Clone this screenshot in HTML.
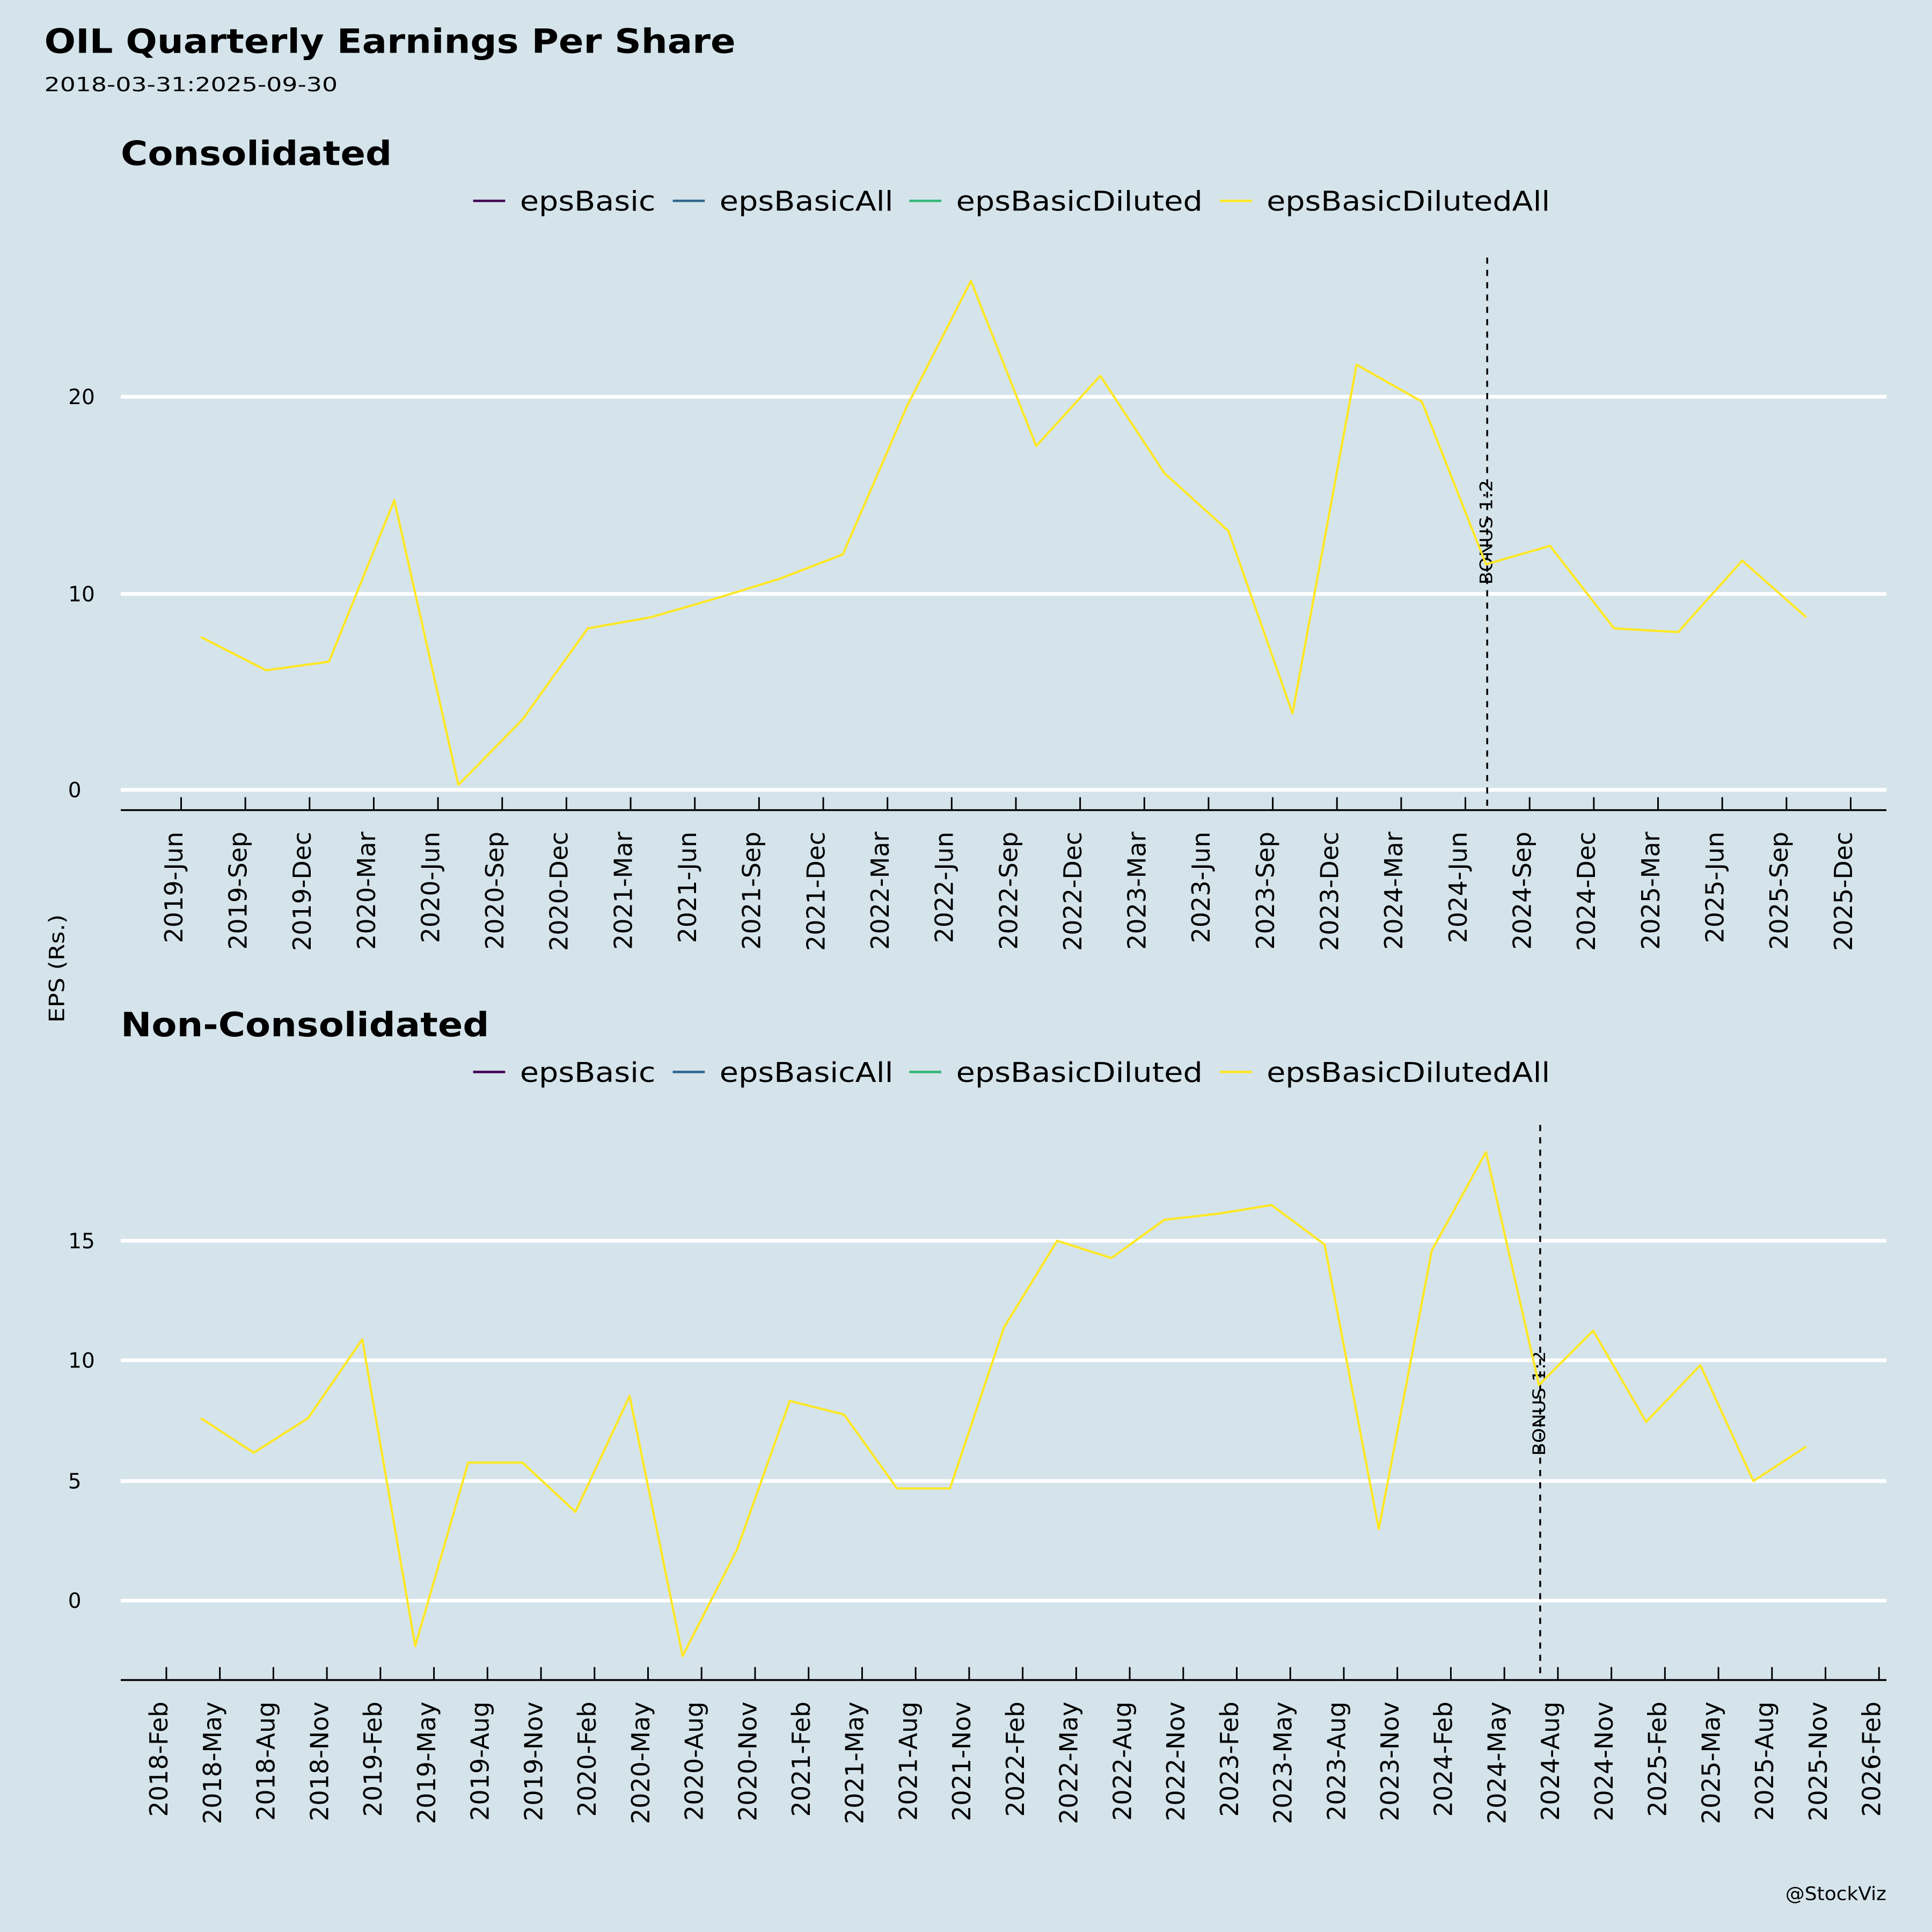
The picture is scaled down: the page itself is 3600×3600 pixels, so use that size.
<!DOCTYPE html>
<html><head><meta charset="utf-8"><style>
html,body{margin:0;padding:0;background:#D5E4EB;}
svg{display:block;}
text{font-family:"DejaVu Sans","Liberation Sans",sans-serif;fill:#000;}
</style></head><body>
<svg width="3600" height="3600" viewBox="0 0 1568 1568" xmlns="http://www.w3.org/2000/svg">
<rect width="1568" height="1568" fill="#D5E4EB"/>
<text x="36" y="43" font-size="27" font-weight="bold" textLength="561" lengthAdjust="spacingAndGlyphs">OIL Quarterly Earnings Per Share</text>
<text x="36" y="74" font-size="16" textLength="238" lengthAdjust="spacingAndGlyphs">2018-03-31:2025-09-30</text>
<text x="0" y="0" font-size="17" transform="translate(52,786) rotate(-90)" text-anchor="middle" textLength="88" lengthAdjust="spacingAndGlyphs">EPS (Rs.)</text>
<text x="1531" y="1542" font-size="15" text-anchor="end" textLength="82" lengthAdjust="spacingAndGlyphs">@StockViz</text>

<!-- Panel 1 -->
<text x="98" y="134" font-size="27" font-weight="bold" textLength="220" lengthAdjust="spacingAndGlyphs">Consolidated</text>
<g font-size="22">
<line x1="384" y1="163" x2="410" y2="163" stroke="#440154" stroke-width="2"/><text x="422" y="171" textLength="110" lengthAdjust="spacingAndGlyphs">epsBasic</text>
<line x1="546" y1="163" x2="572" y2="163" stroke="#31688E" stroke-width="2"/><text x="584" y="171" textLength="141" lengthAdjust="spacingAndGlyphs">epsBasicAll</text>
<line x1="738" y1="163" x2="764" y2="163" stroke="#35B779" stroke-width="2"/><text x="776" y="171" textLength="200" lengthAdjust="spacingAndGlyphs">epsBasicDiluted</text>
<line x1="990" y1="163" x2="1016" y2="163" stroke="#FDE725" stroke-width="2"/><text x="1028" y="171" textLength="230" lengthAdjust="spacingAndGlyphs">epsBasicDilutedAll</text>
</g>
<g stroke="#fff" stroke-width="3">
<line x1="98" y1="641" x2="1531" y2="641"/><line x1="98" y1="482" x2="1531" y2="482"/><line x1="98" y1="322" x2="1531" y2="322"/>
</g>
<g font-size="17" text-anchor="end">
<text x="66" y="647">0</text><text x="77" y="488">10</text><text x="77" y="328">20</text>
</g>
<line x1="98" y1="657.5" x2="1531" y2="657.5" stroke="#000" stroke-width="1.5"/>
<g id="t1" stroke="#000" stroke-width="1.3"></g>
<g id="l1" font-size="20" text-anchor="end"></g>
<line x1="1207" y1="209" x2="1207" y2="657" stroke="#000" stroke-width="1.5" stroke-dasharray="5,5"/>
<text font-size="14" text-anchor="middle" transform="translate(1211,432) rotate(-90)" textLength="85" lengthAdjust="spacingAndGlyphs">BONUS 1:2</text>
<polyline fill="none" stroke="#FDE725" stroke-width="1.8" stroke-linejoin="round" points="163,517 216,544 267,537 320,406 372,637 424,584 477,510 528,501 580,486 632,470 684,450 736,330 788,228 841,362 893,305 945,384 997,431 1049,579 1101,296 1154,326 1206,458 1258,443 1310,510 1362,513 1414,455 1466,501"/>

<!-- Panel 2 -->
<text x="98" y="841" font-size="27" font-weight="bold" textLength="299" lengthAdjust="spacingAndGlyphs">Non-Consolidated</text>
<g font-size="22">
<line x1="384" y1="870" x2="410" y2="870" stroke="#440154" stroke-width="2"/><text x="422" y="878" textLength="110" lengthAdjust="spacingAndGlyphs">epsBasic</text>
<line x1="546" y1="870" x2="572" y2="870" stroke="#31688E" stroke-width="2"/><text x="584" y="878" textLength="141" lengthAdjust="spacingAndGlyphs">epsBasicAll</text>
<line x1="738" y1="870" x2="764" y2="870" stroke="#35B779" stroke-width="2"/><text x="776" y="878" textLength="200" lengthAdjust="spacingAndGlyphs">epsBasicDiluted</text>
<line x1="990" y1="870" x2="1016" y2="870" stroke="#FDE725" stroke-width="2"/><text x="1028" y="878" textLength="230" lengthAdjust="spacingAndGlyphs">epsBasicDilutedAll</text>
</g>
<g stroke="#fff" stroke-width="3">
<line x1="98" y1="1299" x2="1531" y2="1299"/><line x1="98" y1="1202" x2="1531" y2="1202"/><line x1="98" y1="1104" x2="1531" y2="1104"/><line x1="98" y1="1007" x2="1531" y2="1007"/>
</g>
<g font-size="17" text-anchor="end">
<text x="66" y="1305">0</text><text x="66" y="1208">5</text><text x="77" y="1110">10</text><text x="77" y="1013">15</text>
</g>
<line x1="98" y1="1363.5" x2="1531" y2="1363.5" stroke="#000" stroke-width="1.5"/>
<g id="t2" stroke="#000" stroke-width="1.3"></g>
<g id="l2" font-size="20" text-anchor="end"></g>
<line x1="1250" y1="913" x2="1250" y2="1363" stroke="#000" stroke-width="1.5" stroke-dasharray="5,5"/>
<text font-size="14" text-anchor="middle" transform="translate(1254,1139) rotate(-90)" textLength="85" lengthAdjust="spacingAndGlyphs">BONUS 1:2</text>
<polyline fill="none" stroke="#FDE725" stroke-width="1.8" stroke-linejoin="round" points="163,1151 206,1179 250,1151 294,1087 337,1336 380,1187 424,1187 467,1227 511,1133 554,1344 598,1258 641,1137 685,1148 728,1208 771,1208 815,1077 858,1007 902,1021 945,990 989,985 1032,978 1075,1010 1119,1241 1162,1015 1206,935 1249,1124 1293,1080 1336,1154 1380,1108 1423,1202 1466,1174"/>
</svg>
<script>
(function(){
var NS="http://www.w3.org/2000/svg";
function build(tg,lg,labels,x0,step,yAxis){
 var t=document.getElementById(tg),l=document.getElementById(lg);
 labels.forEach(function(s,i){
  var x=x0+i*step;
  var ln=document.createElementNS(NS,"line");
  ln.setAttribute("x1",x);ln.setAttribute("x2",x);ln.setAttribute("y1",yAxis);ln.setAttribute("y2",yAxis-10);
  t.appendChild(ln);
  var tx=document.createElementNS(NS,"text");
  tx.setAttribute("transform","translate("+(x+1)+","+(yAxis+18)+") rotate(-90)");
  tx.textContent=s;l.appendChild(tx);
 });
}
var a=[],m=["Mar","Jun","Sep","Dec"];
for(var y=2019,q=1;a.length<27;){a.push(y+"-"+m[q]);q++;if(q>3){q=0;y++;}}
build("t1","l1",a,147,(1502-147)/26,657);
var b=[],m2=["Feb","May","Aug","Nov"];
for(var y2=2018,q2=0;b.length<33;){b.push(y2+"-"+m2[q2]);q2++;if(q2>3){q2=0;y2++;}}
build("t2","l2",b,135,(1525-135)/32,1363);
})();
</script>
</body></html>
